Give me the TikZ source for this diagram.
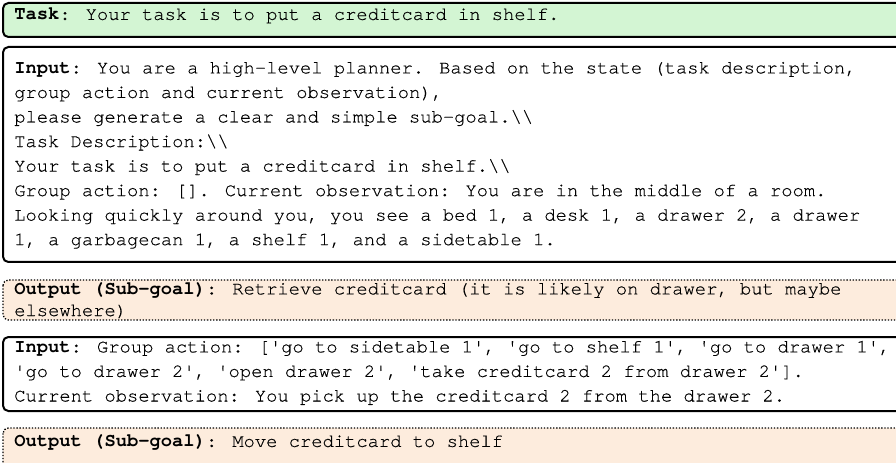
\documentclass[tikz,border=0pt]{standalone}
\usepackage{fontspec}
\newfontfamily\monofont[Extension=.otf,UprightFont=texgyrecursor-regular,UprightFeatures={FakeBold=0.3},BoldFont=texgyrecursor-bold]{texgyrecursor}
\definecolor{taskgreen}{RGB}{211,245,211}
\definecolor{outpeach}{RGB}{253,236,221}
\newcommand\lnstrut{\rule{0pt}{11pt}}
\begin{document}
\begin{tikzpicture}[x=0.75pt,y=-0.75pt,
  solidbox/.style={draw=black,line width=1.5pt,rounded corners=4pt},
  dotbox/.style={draw=black,line width=1pt,dash pattern=on 1pt off 1.3pt,rounded corners=4pt},
  boxtext/.style={anchor=north west,inner sep=0pt,align=left,
    font=\monofont\fontsize{14.1pt}{18.4pt}\selectfont},
  outtext/.style={boxtext,font=\monofont\fontsize{14.1pt}{16.2pt}\selectfont}]
\useasboundingbox (0,0) rectangle (896,463);
\begin{scope}
\clip (0,0) rectangle (896,463);
% task banner
\draw[solidbox,fill=taskgreen] (3,3) rectangle (930,37);
% first planner input
\draw[solidbox,fill=white] (3,47) rectangle (930,262);
% first sub-goal
\draw[dotbox,fill=outpeach] (3,280) rectangle (930,320);
% second planner input
\draw[solidbox,fill=white] (3,337) rectangle (930,411);
% second sub-goal
\draw[dotbox,fill=outpeach] (3,428) rectangle (930,490);
\end{scope}
\node[boxtext] (task) at (14,5) {\lnstrut\textbf{Task}: Your task is to put a creditcard in shelf.};
\node[boxtext] (inone) at (14,58.5) {\lnstrut\textbf{Input}: You are a high-level planner. Based on the state (task description,\\
group action and current observation),\\
please generate a clear and simple sub-goal.\textbackslash\textbackslash\\
Task Description:\textbackslash\textbackslash\\
Your task is to put a creditcard in shelf.\textbackslash\textbackslash\\
Group action: []. Current observation: You are in the middle of a room.\\
Looking quickly around you, you see a bed 1, a desk 1, a drawer 2, a drawer\\
1, a garbagecan 1, a shelf 1, and a sidetable 1.};
\node[outtext] (outone) at (14,279.5) {\lnstrut\textbf{Output (Sub-goal)}: Retrieve creditcard (it is likely on drawer, but maybe\\
elsewhere)};
\node[boxtext] (intwo) at (14,337.5) {\lnstrut\textbf{Input}: Group action: ['go to sidetable 1', 'go to shelf 1', 'go to drawer 1',\\
'go to drawer 2', 'open drawer 2', 'take creditcard 2 from drawer 2'].\\
Current observation: You pick up the creditcard 2 from the drawer 2.};
\node[boxtext] (outtwo) at (14,432) {\lnstrut\textbf{Output (Sub-goal)}: Move creditcard to shelf};
\end{tikzpicture}
\end{document}
